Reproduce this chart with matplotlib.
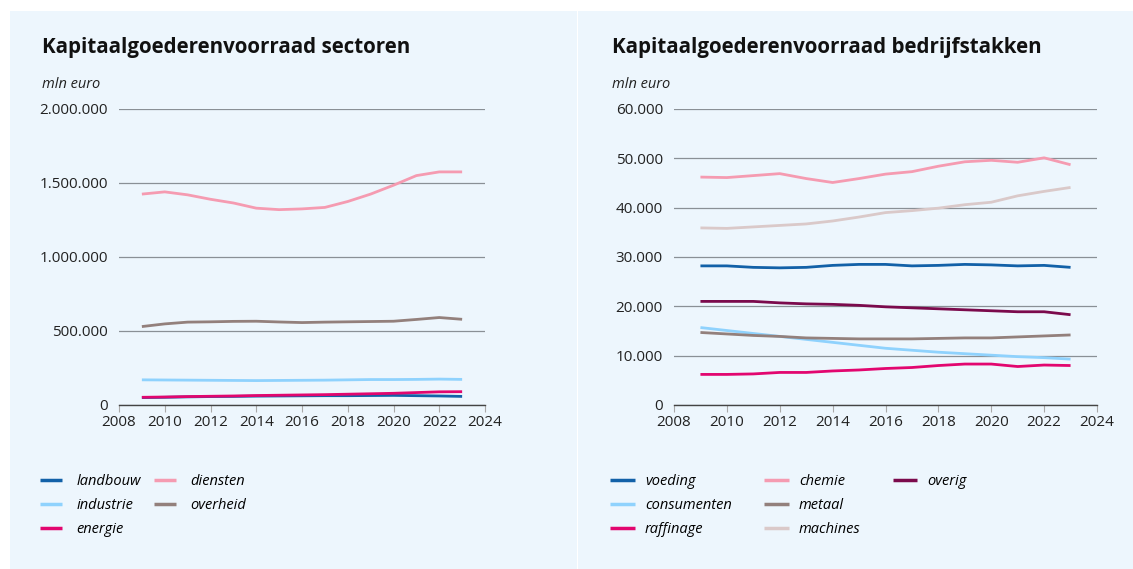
import numpy as np
import matplotlib.pyplot as plt
from matplotlib.patches import Rectangle
from matplotlib.lines import Line2D
from matplotlib.ticker import FuncFormatter

years = list(range(2009, 2024))

# sectoren (mln euro)
landbouw = [50000, 52000, 55000, 57000, 58000, 60000, 61000, 62000, 63000, 63000, 64000, 65000, 63000, 61000, 58000]
industrie = [170000, 169000, 168000, 167000, 166000, 165000, 166000, 167000, 168000, 170000, 172000, 172000, 173000, 175000, 173000]
energie = [52000, 54000, 57000, 59000, 61000, 64000, 66000, 68000, 70000, 73000, 76000, 79000, 84000, 89000, 90000]
diensten = [1425000, 1440000, 1420000, 1390000, 1365000, 1330000, 1320000, 1325000, 1335000, 1375000, 1425000, 1485000, 1550000, 1575000, 1575000]
overheid = [530000, 548000, 560000, 562000, 565000, 566000, 561000, 557000, 560000, 562000, 564000, 566000, 578000, 591000, 579000]

# bedrijfstakken (mln euro)
voeding = [28200, 28200, 27900, 27800, 27900, 28300, 28500, 28500, 28200, 28300, 28500, 28400, 28200, 28300, 27900]
consumenten = [15700, 15100, 14500, 13900, 13300, 12700, 12100, 11500, 11100, 10700, 10400, 10100, 9800, 9600, 9300]
raffinage = [6200, 6200, 6300, 6600, 6600, 6900, 7100, 7400, 7600, 8000, 8300, 8300, 7800, 8100, 8000]
chemie = [46200, 46100, 46500, 46900, 45900, 45100, 45900, 46800, 47300, 48400, 49300, 49600, 49200, 50100, 48700]
metaal = [14700, 14400, 14100, 13900, 13600, 13500, 13400, 13400, 13400, 13500, 13600, 13600, 13800, 14000, 14200]
machines = [35900, 35800, 36100, 36400, 36700, 37300, 38100, 39000, 39400, 39900, 40600, 41100, 42400, 43300, 44100]
overig = [21000, 21000, 21000, 20700, 20500, 20400, 20200, 19900, 19700, 19500, 19300, 19100, 18900, 18900, 18300]

left_series = [("landbouw", landbouw, "#1261a8"), ("industrie", industrie, "#8fd2fd"),
               ("energie", energie, "#e2066f"), ("diensten", diensten, "#f59bb1"),
               ("overheid", overheid, "#93807c")]
right_series = [("voeding", voeding, "#1261a8"), ("consumenten", consumenten, "#8fd2fd"),
                ("raffinage", raffinage, "#e2066f"), ("chemie", chemie, "#f59bb1"),
                ("metaal", metaal, "#93807c"), ("machines", machines, "#dac9c9"),
                ("overig", overig, "#7b0a4c")]

W, H = 1133, 569
fig = plt.figure(figsize=(W / 100, H / 100), dpi=100)
fig.patch.set_facecolor("white")
plt.rcParams["font.family"] = ["Open Sans", "DejaVu Sans"]

bg = "#edf6fd"
fig.patches.append(Rectangle((10 / W, 0), 567 / W, 1 - 11 / H, transform=fig.transFigure,
                             facecolor=bg, edgecolor="none", zorder=-10))
fig.patches.append(Rectangle((578 / W, 0), 555 / W, 1 - 11 / H, transform=fig.transFigure,
                             facecolor=bg, edgecolor="none", zorder=-10))


def dotted(v, pos):
    return "{:,.0f}".format(v).replace(",", ".")


def make_panel(x0, x1, title, tx, series, ymax, ystep, ncol, legx, colsp, handlelen, textpad):
    ax = fig.add_axes([x0 / W, 1 - 405 / H, (x1 - x0) / W, 296 / H])
    ax.set_facecolor("none")
    for name, vals, col in series:
        ax.plot(years, vals, color=col, lw=2.0, label=name, solid_capstyle="butt")
    ax.set_xlim(2008, 2024)
    ax.set_ylim(0, ymax)
    ax.set_xticks(range(2008, 2025, 2))
    ax.set_yticks(np.arange(0, ymax + 1, ystep))
    ax.yaxis.set_major_formatter(FuncFormatter(dotted))
    for s in ["top", "right", "left"]:
        ax.spines[s].set_visible(False)
    ax.spines["bottom"].set_color("#444444")
    ax.spines["bottom"].set_linewidth(1.0)
    ax.grid(axis="y", color="#8a9096", lw=0.9)
    ax.set_axisbelow(True)
    ax.tick_params(axis="y", length=0, pad=8, labelsize=11, colors="#222222")
    ax.tick_params(axis="x", length=5, color="#aaaaaa", pad=2, labelsize=11, labelcolor="#222222")
    fig.text(tx / W, 1 - 47 / H, title, fontsize=14.8, fontweight="bold", va="center", color="#111111")
    fig.text(tx / W, 1 - 84 / H, "mln euro", fontsize=10.5, style="italic", va="center", color="#222222")

    handles, labels = ax.get_legend_handles_labels()
    # pad to full columns so the last column holds the leftover entry
    while len(handles) % ncol:
        handles.append(Line2D([], [], alpha=0))
        labels.append("")
    leg = ax.legend(handles, labels, loc="upper left", bbox_to_anchor=(legx / W, 1 - 474 / H),
                    bbox_transform=fig.transFigure, ncol=ncol, frameon=False, borderaxespad=0,
                    borderpad=0, handlelength=handlelen, handletextpad=textpad, columnspacing=colsp,
                    labelspacing=0.62, prop={"style": "italic", "size": 10.5})
    for line in leg.get_lines():
        line.set_linewidth(2.5)
    return ax


make_panel(119, 485, "Kapitaalgoederenvoorraad sectoren", 42, left_series, 2000000, 500000, 2, 40, 0.9, 1.5, 1.0)
make_panel(674, 1097, "Kapitaalgoederenvoorraad bedrijfstakken", 612, right_series, 60000, 10000, 3, 610, 2.2, 1.7, 0.7)

fig.savefig("out.png", dpi=100, facecolor=fig.get_facecolor())
